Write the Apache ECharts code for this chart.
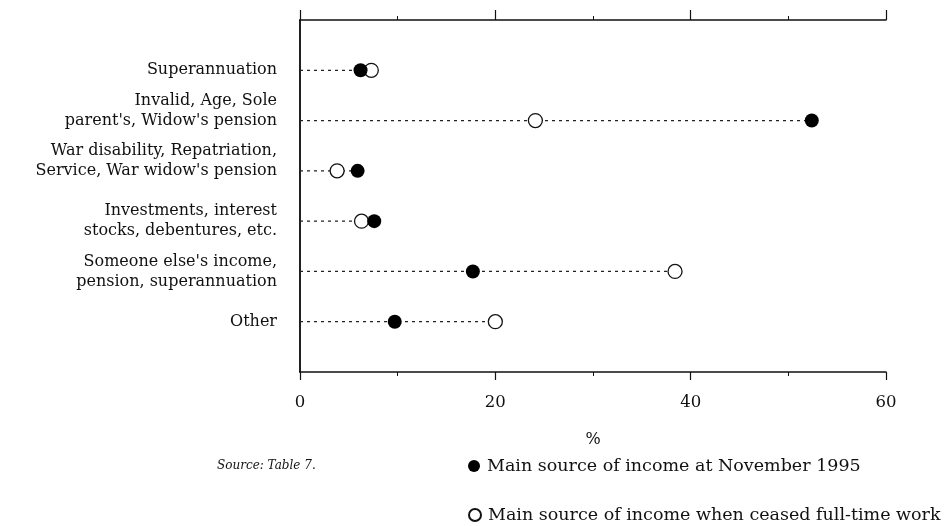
<!DOCTYPE html>
<html>
<head>
<meta charset="utf-8">
<script src="https://cdn.jsdelivr.net/npm/echarts@6/dist/echarts.min.js"></script>
<style>
html,body{margin:0;padding:0;background:#fff;}
#chart{width:951px;height:526px;}
</style>
</head>
<body>
<div id="chart"></div>
<script>
var categories = [
  "Superannuation",
  "Invalid, Age, Sole\nparent's, Widow's pension",
  "War disability, Repatriation,\nService, War widow's pension",
  "Investments, interest\nstocks, debentures, etc.",
  "Someone else's income,\npension, superannuation",
  "Other"
];
var novemberValues = [6.2, 52.4, 5.9, 7.6, 17.7, 9.7];
var ceasedValues = [7.3, 24.1, 3.8, 6.3, 38.4, 20.0];
var xTicks = [0, 20, 40, 60];
var seriesNames = ["Main source of income at November 1995", "Main source of income when ceased full-time work"];

// two-line labels whose second line sits on the category line
var bottomAligned = {1: true, 2: true};

var FONT = "DejaVu Serif";
var INK = "#111";

var yCats = [""].concat(categories).concat([""]);

var chart = echarts.init(document.getElementById("chart"));

var lineData = categories.map(function (c, i) {
  return [Math.max(novemberValues[i], ceasedValues[i]), i + 1];
});

function legendBox(name, top) {
  return {
    orient: "vertical",
    left: 468, top: top, padding: 0,
    itemWidth: 16, itemHeight: 12,
    data: [{name: name, icon: "circle"}],
    textStyle: {fontFamily: FONT, fontSize: 17.5, color: INK}
  };
}

chart.setOption({
  animation: false,
  backgroundColor: "#fff",
  title: {
    text: "Source: Table 7.",
    left: 212, top: 455,
    textStyle: {fontFamily: FONT, fontStyle: "italic", fontWeight: "normal", fontSize: 12, color: INK}
  },
  legend: [legendBox(seriesNames[0], 457), legendBox(seriesNames[1], 506)],
  grid: {left: 300, right: 65, top: 20, bottom: 154},
  xAxis: [{
    type: "value", position: "bottom", min: 0, max: 60, interval: 20,
    name: "%", nameLocation: "middle", nameGap: 60,
    nameTextStyle: {fontFamily: FONT, fontSize: 16, color: INK},
    axisLine: {show: true, lineStyle: {color: INK, width: 1.5}},
    axisTick: {show: true, length: 8, lineStyle: {color: INK, width: 1.2}},
    minorTick: {show: true, splitNumber: 2, length: 4, lineStyle: {color: INK, width: 1}},
    splitLine: {show: false},
    axisLabel: {fontFamily: FONT, fontSize: 16.5, color: INK, margin: 22,
      formatter: function (v) { return xTicks.indexOf(v) >= 0 ? String(v) : ""; }}
  }, {
    type: "value", position: "top", min: 0, max: 60, interval: 20,
    axisLine: {show: true, lineStyle: {color: INK, width: 1.5}},
    axisTick: {show: true, length: 10, lineStyle: {color: INK, width: 1.2}},
    minorTick: {show: true, splitNumber: 2, length: 4, lineStyle: {color: INK, width: 1}},
    splitLine: {show: false},
    axisLabel: {show: false}
  }],
  yAxis: [{
    type: "category", data: yCats, inverse: true, boundaryGap: false,
    axisLine: {show: true, lineStyle: {color: INK, width: 1.5}},
    axisTick: {show: false},
    splitLine: {show: false},
    axisLabel: {
      fontFamily: FONT, fontSize: 16, color: INK, margin: 23, lineHeight: 20, align: "right",
      interval: 0,
      formatter: function (v, idx) {
        return bottomAligned[idx - 1] ? v + "\n " : v;
      }
    }
  }, {
    type: "category", data: yCats, inverse: true, boundaryGap: false, position: "right",
    axisLine: {show: true, lineStyle: {color: INK, width: 1.5}},
    axisTick: {show: false}, axisLabel: {show: false}, splitLine: {show: false}
  }],
  series: [{
    type: "custom",
    silent: true,
    z: 1,
    data: lineData,
    renderItem: function (params, api) {
      var p0 = api.coord([0, api.value(1)]);
      var p1 = api.coord([api.value(0), api.value(1)]);
      return {
        type: "line",
        shape: {x1: p0[0], y1: p0[1], x2: p1[0], y2: p1[1]},
        style: {stroke: "#222", lineWidth: 1.2, lineDash: [3, 4]}
      };
    }
  }, {
    name: seriesNames[1],
    type: "scatter",
    z: 3,
    symbol: "circle", symbolSize: 14,
    itemStyle: {color: "#fff", borderColor: INK, borderWidth: 1.3, opacity: 1},
    data: categories.map(function (c, i) { return [ceasedValues[i], i + 1]; })
  }, {
    name: seriesNames[0],
    type: "scatter",
    z: 4,
    symbol: "circle", symbolSize: 14,
    itemStyle: {color: "#000", borderColor: "#000", borderWidth: 0, opacity: 1},
    data: categories.map(function (c, i) { return [novemberValues[i], i + 1]; })
  }]
});
</script>
</body>
</html>
